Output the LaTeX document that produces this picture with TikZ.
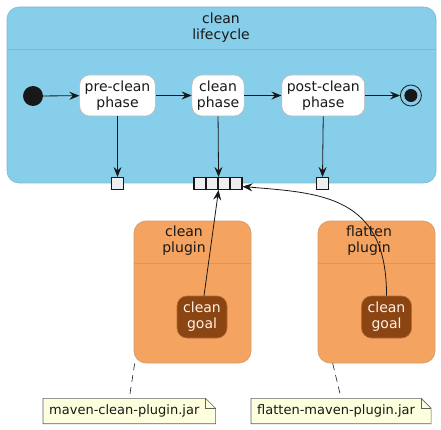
\documentclass[tikz,border=0pt]{standalone}
\usepackage{fontspec}
\setmainfont{DejaVu Sans}
\usepackage{xcolor}
\usepackage{tikz}
\usetikzlibrary{arrows.meta,positioning}
\pgfdeclarelayer{background}
\pgfsetlayers{background,main}
\definecolor{lifeblue}{HTML}{87CEEB}
\definecolor{plugorange}{HTML}{F4A460}
\definecolor{goalbrown}{HTML}{8B4513}
\definecolor{goaltext}{HTML}{FFF2E6}
\definecolor{notefill}{HTML}{FEFFDD}
\definecolor{pinfill}{HTML}{EEEEEE}
\definecolor{edge}{HTML}{181818}

\begin{document}
\begin{tikzpicture}[x=1pt,y=-1pt,
  every node/.style={font=\fontsize{14}{16}\selectfont, align=center, text=edge},
  container/.style={draw=#1!70!gray, fill=#1, rounded corners=12pt, line width=0.6pt, inner sep=0pt},
  phase/.style={draw=gray!55, fill=white, rounded corners=10pt, minimum height=41pt, inner xsep=5pt, inner ysep=0pt, line width=0.6pt},
  goal/.style={draw=goalbrown!60!plugorange, fill=goalbrown, text=goaltext, rounded corners=10pt, minimum height=42pt, minimum width=50pt, inner sep=0pt, line width=0.6pt},
  pin/.style={draw=edge, fill=pinfill, minimum size=12pt, inner sep=0pt, line width=1.1pt},
  flow/.style={draw=edge, line width=0.8pt, -{Stealth[length=10pt,width=8pt,inset=3.5pt]}},
  notebox/.style={font=\fontsize{13}{15}\selectfont, minimum height=25pt, inner xsep=6pt, inner ysep=0pt, anchor=west},
  tether/.style={draw=edge, line width=0.6pt, dash pattern=on 7pt off 5pt}]

\useasboundingbox (0,0) rectangle (441,430);

% LIFECYCLE
  \node[container=lifeblue, minimum width=429pt, minimum height=176pt] (life) at (221.5,95) {};
  \draw[lifeblue!70!gray, line width=0.6pt] (7,49) -- (436,49);
  \node (lifetitle) at (221,28) {clean\\lifecycle};

  \node[circle, fill=edge, minimum size=20pt, inner sep=0pt] (start) at (33,96) {};
  \node[phase] (pre) at (117.5,95.5) {pre-clean\\phase};
  \node[phase, right=36pt of pre] (cln) {clean\\phase};
  \node[phase, right=37pt of cln] (post) {post-clean\\phase};
  \node[circle, draw=edge, line width=0.8pt, minimum size=21pt, inner sep=0pt, right=35pt of post] (stop) {};
  \node[circle, fill=edge, minimum size=13pt, inner sep=0pt] (stopdot) at (stop) {};

% PINS
  \node[pin] (prepin) at (117.5,183.5) {};
  \foreach \i in {1,...,4}
      \node[pin] (p\i) at (188+12*\i,183.5) {};
  \node[pin] (postpin) at (322.5,183.5) {};

% PLUGINS
  \node[container=plugorange, minimum width=117pt, minimum height=142pt] (cplug) at (192.5,292) {};
  \draw[plugorange!70!gray, line width=0.6pt] (134,263) -- (251,263);
  \node (cplugtitle) at (184,241) {clean\\plugin};
  \node[goal] (cgoal) at (202,317) {clean\\goal};

  \node[container=plugorange, minimum width=117pt, minimum height=142pt] (fplug) at (376.5,292) {};
  \draw[plugorange!70!gray, line width=0.6pt] (318,263) -- (435,263);
  \node (fplugtitle) at (369,241) {flatten\\plugin};
  \node[goal] (fgoal) at (386.5,317) {clean\\goal};

% FLOW
  \draw[flow] (start) -- (pre);
  \draw[flow] (pre) -- (cln);
  \draw[flow] (cln) -- (post);
  \draw[flow] (post) -- (stop);
  \draw[flow] (pre.south) -- (prepin.north);
  \draw[flow] (cln.south) -- (p2.north east);
  \draw[flow] (post.south) -- (postpin.north);
  \draw[flow] ([xshift=2pt]cgoal.north) -- (p2.south east);
  \draw[flow] (fgoal.north) .. controls (387,195) and (320,193) .. (p4.-25);

% NOTES
  \node[notebox] (cnote) at (43,411) {maven-clean-plugin.jar};
  \node[notebox] (fnote) at (251,411) {flatten-maven-plugin.jar};
  \begin{pgfonlayer}{background}
  \foreach \n in {cnote,fnote}
  {
    \draw[draw=gray!75!black, fill=notefill, line width=0.6pt] (\n.north west) -- (\n.north east)
      -- ([xshift=10pt,yshift=-10pt]\n.north east) -- ([xshift=10pt]\n.south east) -- (\n.south west) -- cycle;
    \draw[draw=gray!75!black, line width=0.6pt] (\n.north east) -- ([yshift=-10pt]\n.north east)
      -- ([xshift=10pt,yshift=-10pt]\n.north east);
  }
  \end{pgfonlayer}
  \draw[tether] ([xshift=1pt]cplug.south west) -- ([xshift=5pt]cnote.north);
  \draw[tether] ([xshift=15pt]fplug.south west) -- ([xshift=5pt]fnote.north);
\end{tikzpicture}
\end{document}
